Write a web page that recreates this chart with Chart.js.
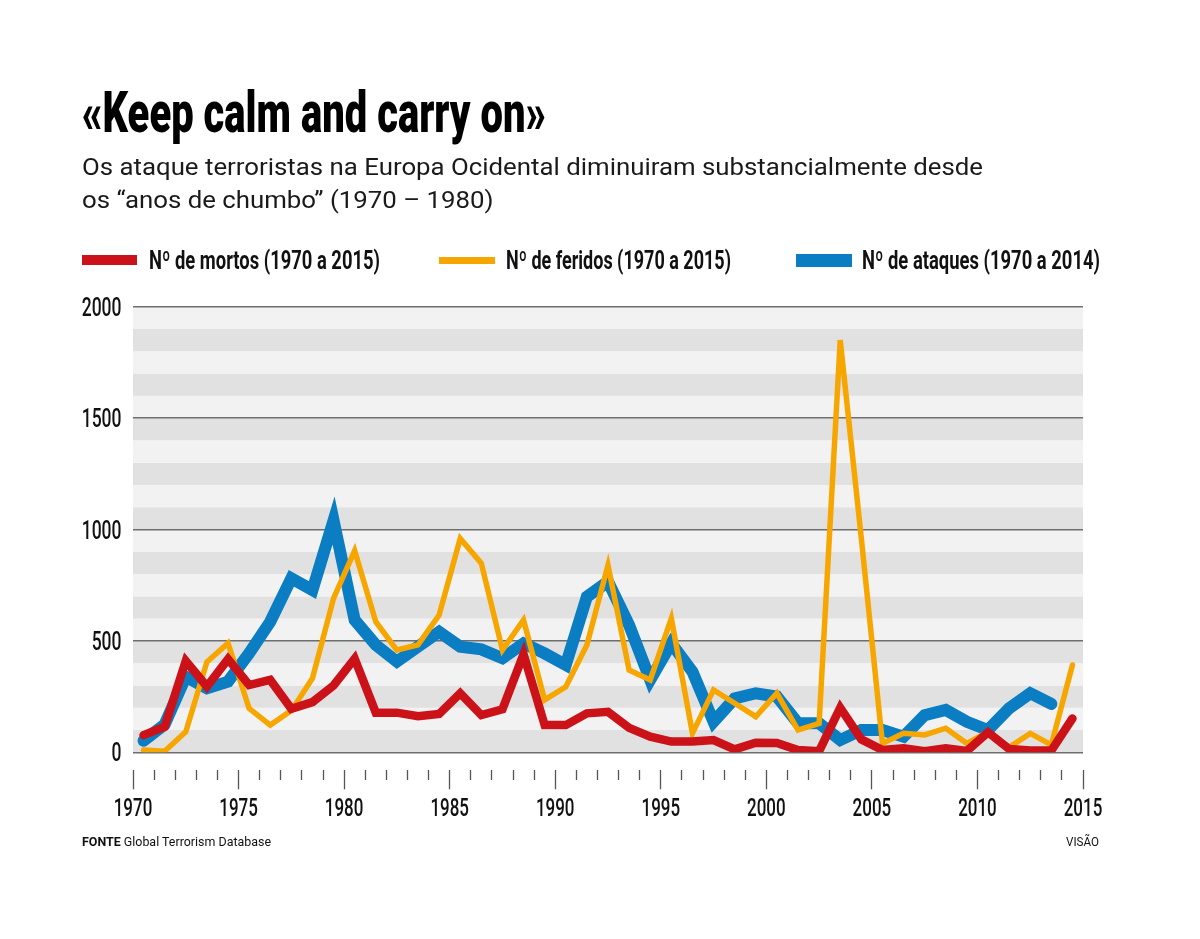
<!DOCTYPE html>
<html>
<head>
<meta charset="utf-8">
<script src="https://cdn.jsdelivr.net/npm/chart.js@4.4.0/dist/chart.umd.min.js"></script>
<style>
  html, body { margin:0; padding:0; background:#fff; }
  body { width:1200px; height:939px; position:relative; overflow:hidden; }
  #c { position:absolute; left:0; top:0; }
  .t { position:absolute; white-space:nowrap; display:inline-block; transform-origin:0 0; color:#111; }
  #title { left:82px; top:83px; font-family:Roboto; font-weight:900; font-size:58px; line-height:58px; color:#000; }
  .sub { font-family:Roboto; font-size:24px; line-height:33px; color:#1a1a1a; left:82px; }
  .leg { font-family:Roboto; font-weight:bold; font-size:26px; line-height:26px; top:247px; color:#111; }
  .sw { position:absolute; }
  .foot { font-family:Roboto; font-size:13px; line-height:14px; top:835px; color:#111; }
</style>
</head>
<body>
<canvas id="c" width="1200" height="939"></canvas>
<div id="title" class="t">«Keep calm and carry on»</div>
<div id="sub1" class="t sub" style="top:150.8px">Os ataque terroristas na Europa Ocidental diminuiram substancialmente desde</div>
<div id="sub2" class="t sub" style="top:183.8px">os “anos de chumbo” (1970 – 1980)</div>

<div class="sw" style="left:82px;top:255px;width:55px;height:10px;background:#cc1219"></div>
<div id="leg1" class="t leg" style="left:149px">Nº de mortos (1970 a 2015)</div>
<div class="sw" style="left:439px;top:256.5px;width:56px;height:7px;background:#f7a600"></div>
<div id="leg2" class="t leg" style="left:506px">Nº de feridos (1970 a 2015)</div>
<div class="sw" style="left:796px;top:253.5px;width:56px;height:13px;background:#0a7dc3"></div>
<div id="leg3" class="t leg" style="left:862px">Nº de ataques (1970 a 2014)</div>

<div id="foot1" class="t foot" style="left:82px"><b>FONTE</b> Global Terrorism Database</div>
<div id="foot2" class="t foot" style="left:1066px">VISÃO</div>

<script>
// ---- Data ----
const years = [1970,1971,1972,1973,1974,1975,1976,1977,1978,1979,
               1980,1981,1982,1983,1984,1985,1986,1987,1988,1989,
               1990,1991,1992,1993,1994,1995,1996,1997,1998,1999,
               2000,2001,2002,2003,2004,2005,2006,2007,2008,2009,
               2010,2011,2012,2013,2014];
const tickYears = [1970,1971,1972,1973,1974,1975,1976,1977,1978,1979,
                   1980,1981,1982,1983,1984,1985,1986,1987,1988,1989,
                   1990,1991,1992,1993,1994,1995,1996,1997,1998,1999,
                   2000,2001,2002,2003,2004,2005,2006,2007,2008,2009,
                   2010,2011,2012,2013,2014,2015];
const mortos  = [77,115,410,295,418,302,325,195,225,300,
                 420,178,178,162,172,265,167,193,440,122,
                 122,175,182,110,70,48,48,55,13,43,
                 42,10,5,200,58,10,18,5,18,6,
                 90,15,8,8,152];
const feridos = [10,5,92,405,490,197,122,187,332,691,
                 905,586,459,482,616,960,848,459,594,235,
                 294,482,840,369,325,601,85,280,220,160,
                 265,100,130,1850,960,40,85,78,108,40,
                 92,22,85,33,392];
const ataques = [52,125,339,287,317,444,586,781,728,1040,
                 594,482,407,474,541,474,462,422,489,444,
                 392,698,766,571,325,489,362,137,242,265,
                 250,130,130,55,100,100,70,167,190,137,
                 100,197,265,217];
const seriesNames = ['Nº de mortos (1970 a 2015)','Nº de feridos (1970 a 2015)','Nº de ataques (1970 a 2014)'];
const yTicks = [0,500,1000,1500,2000];

// ---- fit text widths ----
function fit(id, w){ const el=document.getElementById(id); el.style.transform=''; const nat=el.getBoundingClientRect().width; el.style.transform='scaleX('+(w/nat)+')'; return w/nat; }
fit('title', 464);
const s = fit('sub1', 901);
document.getElementById('sub2').style.transform='scaleX('+s+')';
fit('leg1', 231); fit('leg2', 225); fit('leg3', 238);
fit('foot1', 189); fit('foot2', 33);

// ---- bands plugin ----
const bands = {
  id:'bands',
  beforeDraw(chart){
    const {ctx, chartArea, scales} = chart; const y = scales.y;
    ctx.save();
    for (let v = 0; v < 2000; v += 100) {
      const top = y.getPixelForValue(v+100), bot = y.getPixelForValue(v);
      ctx.fillStyle = ((v/100) % 2 === 0) ? '#e1e1e1' : '#f2f2f2';
      ctx.fillRect(chartArea.left, top, chartArea.right - chartArea.left, bot - top);
    }
    ctx.restore();
  }
};

// ---- condensed tick labels (drawn from the scales' own ticks) ----
const LABEL_SX = 0.64;
const condLabels = {
  id:'condLabels',
  afterDraw(chart){
    const ctx = chart.ctx;
    ctx.save();
    ctx.fillStyle = '#111';
    ctx.font = '500 26.5px Roboto';
    ctx.textBaseline = 'alphabetic';
    const xt = chart.scales.xt;
    ctx.textAlign = 'center';
    xt.ticks.forEach((t, i) => {
      if (!t.label) return;
      ctx.save(); ctx.translate(xt.getPixelForTick(i), xt.top + 45.5); ctx.scale(LABEL_SX, 1);
      ctx.fillText(t.label, 0, 0); ctx.restore();
    });
    const y = chart.scales.y;
    ctx.textAlign = 'right';
    ctx.font = '500 25px Roboto';
    y.ticks.forEach((t, i) => {
      ctx.save(); ctx.translate(y.right - 11.5, y.getPixelForTick(i) + 9); ctx.scale(0.7, 1);
      ctx.fillText(t.label, 0, 0); ctx.restore();
    });
    ctx.restore();
  }
};

new Chart(document.getElementById('c'), {
  type:'line',
  data:{
    labels: years.map(String),
    datasets:[
      { label:seriesNames[0], data:mortos, borderColor:'#cc1219', borderWidth:8.5 },
      { label:seriesNames[1], data:feridos, borderColor:'#f7a600', borderWidth:5.5 },
      { label:seriesNames[2], data:ataques, borderColor:'#0a7dc3', borderWidth:12 }
    ].map(d => Object.assign(d, { pointRadius:0, pointHoverRadius:0, tension:0, fill:false,
         borderJoinStyle:'miter', borderCapStyle:'round', xAxisID:'x', yAxisID:'y' }))
  },
  options:{
    responsive:false, animation:false, devicePixelRatio:1,
    layout:{ padding:{ left:0, right:117, top:306.7, bottom:108.7 } },
    plugins:{ legend:{display:false}, title:{display:false}, tooltip:{enabled:false} },
    scales:{
      y:{ type:'linear', min:0, max:2000,
          afterBuildTicks(sc){ sc.ticks = yTicks.map(v => ({value:v})); },
          ticks:{ display:false, callback:v => String(v) },
          grid:{ color:'#6e6e6e', lineWidth:1.5, drawTicks:false },
          border:{ display:false },
          afterFit(sc){ sc.width = 133; } },
      x:{ type:'category', position:'bottom', offset:true,
          ticks:{ display:false }, grid:{ display:false }, border:{ display:false },
          afterFit(sc){ sc.height = 18; } },
      xt:{ type:'category', position:'bottom', labels: tickYears.map(String), offset:false,
           ticks:{ display:false, autoSkip:false, maxRotation:0,
                   callback:(v,i) => (tickYears[i] % 5 === 0 ? String(tickYears[i]) : '') },
           grid:{ drawOnChartArea:false, tickLength:19, tickColor:'#555', tickWidth:1.3,
                  tickBorderDash: ctx => (tickYears[ctx.index] % 5 === 0 ? [] : [10, 40]) },
           border:{ display:false },
           afterFit(sc){ sc.height = 60; } }
    }
  },
  plugins:[bands, condLabels]
});
</script>
</body>
</html>
